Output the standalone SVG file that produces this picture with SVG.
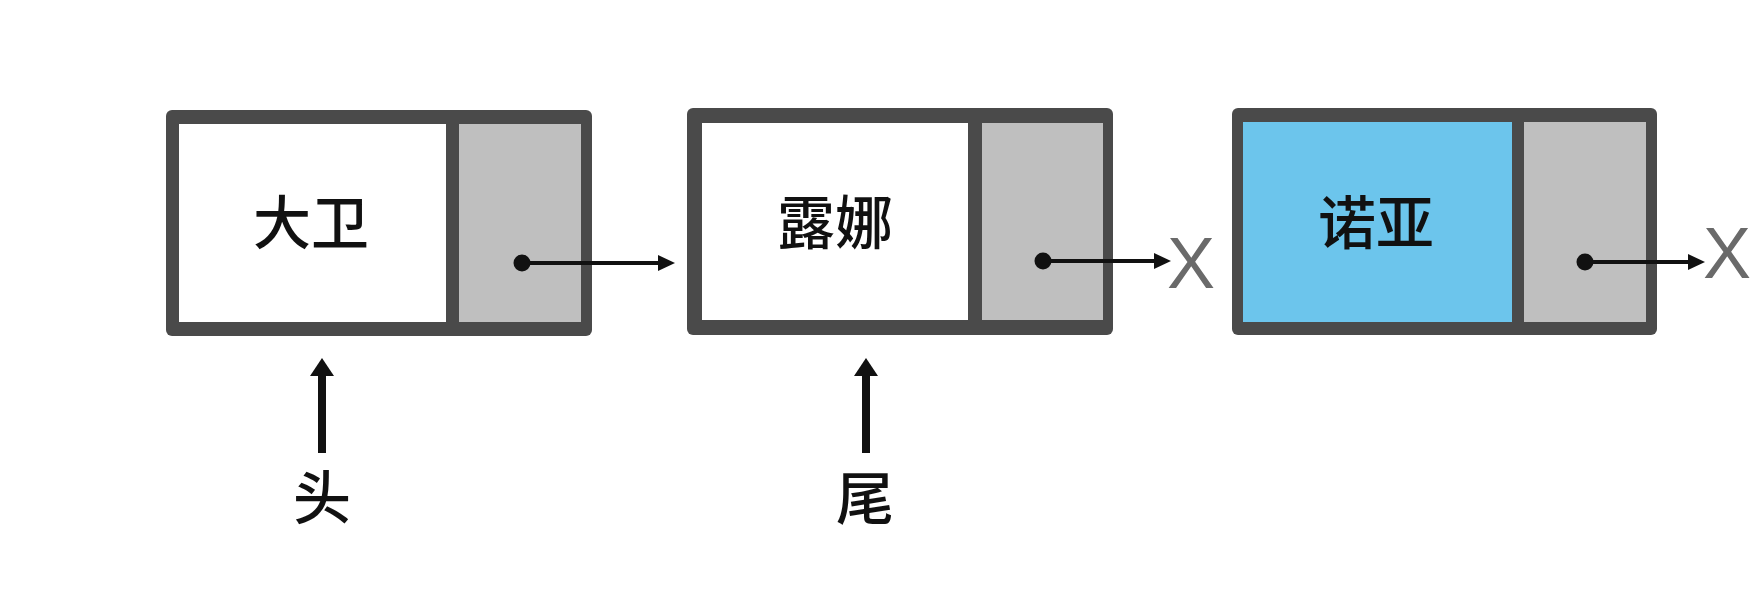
<svg xmlns="http://www.w3.org/2000/svg" width="1752" height="592" viewBox="0 0 1752 592">
<style>
.frame{fill:#4a4a4a}
.data{fill:#ffffff}
.blue{fill:#6cc5ec}
.ptr{fill:#bfbfbf}
.dot{fill:#111111}
.lbl{font-family:"Noto Sans CJK SC","Noto Sans",sans-serif;font-size:58px;font-weight:500;fill:#111111;text-anchor:middle}
.nil{font-family:"Liberation Sans",Arial,sans-serif;font-size:72px;fill:#6a6a6a;text-anchor:middle}
.link{stroke:#111111;stroke-width:4;fill:none}
.up{stroke:#111111;stroke-width:8;fill:none}
.head{fill:#111111}
</style>
<rect width="1752" height="592" fill="#ffffff"/>
<g id="node-david">
<rect class="frame" x="166" y="110" width="426" height="226" rx="6"/>
<rect class="data" x="179" y="124" width="267" height="198"/>
<rect class="ptr" x="459" y="124" width="122" height="198"/>
<text class="lbl" x="311" y="244">大卫</text>
<circle class="dot" cx="522" cy="263" r="8.5"/>
</g>
<g id="node-luna">
<rect class="frame" x="687" y="108" width="426" height="227" rx="6"/>
<rect class="data" x="702" y="123" width="266" height="197"/>
<rect class="ptr" x="982" y="123" width="121" height="197"/>
<text class="lbl" x="835" y="244">露娜</text>
<circle class="dot" cx="1043" cy="261" r="8.5"/>
</g>
<g id="node-noah">
<rect class="frame" x="1232" y="108" width="425" height="227" rx="6"/>
<rect class="blue" x="1243" y="122" width="269" height="200"/>
<rect class="ptr" x="1524" y="122" width="122" height="200"/>
<text class="lbl" x="1376" y="244">诺亚</text>
<circle class="dot" cx="1585" cy="262" r="8.5"/>
</g>
<g id="nil-1"><text class="nil" x="1191" y="288">X</text></g>
<g id="nil-2"><text class="nil" x="1727" y="278">X</text></g>
<g id="label-head"><text class="lbl" x="322" y="519">头</text></g>
<g id="label-tail"><text class="lbl" x="865" y="520">尾</text></g>
<g id="connectors">
<line class="link" x1="522" y1="263" x2="660" y2="263"/>
<polygon class="head" points="675,263 658,255 658,271"/>
<line class="link" x1="1043" y1="261" x2="1156" y2="261"/>
<polygon class="head" points="1171,261 1154,253 1154,269"/>
<line class="link" x1="1585" y1="262" x2="1690" y2="262"/>
<polygon class="head" points="1705,262 1688,254 1688,270"/>
<line class="up" x1="322" y1="453" x2="322" y2="372"/>
<polygon class="head" points="322,358 310,376 334,376"/>
<line class="up" x1="866" y1="453" x2="866" y2="372"/>
<polygon class="head" points="866,358 854,376 878,376"/>
</g>
</svg>
